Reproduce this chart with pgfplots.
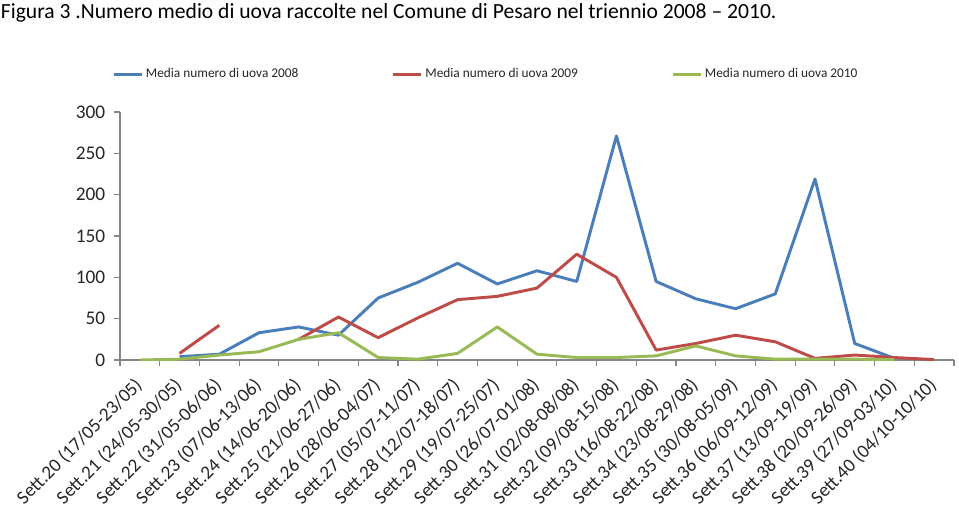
\documentclass[border=0pt]{standalone}
\usepackage{fontspec}
\setmainfont{Carlito}
\usepackage{pgfplots}
\pgfplotsset{compat=1.18}

\definecolor{c2008}{HTML}{4A7EBB}
\definecolor{c2009}{HTML}{BE4B48}
\definecolor{c2010}{HTML}{98B954}
\definecolor{axisgray}{HTML}{868686}

\begin{document}
\begin{tikzpicture}
\path (0pt,0pt) rectangle (719.25pt,388.5pt);
\node[anchor=base west, inner sep=0pt, font=\fontsize{16.2}{19}\selectfont]
  at (0.5pt,374.5pt) {Figura 3 .Numero medio di uova raccolte nel Comune di Pesaro nel triennio 2008 – 2010.};
\begin{axis}[
  at={(90pt,118.5pt)}, anchor=south west,
  scale only axis, width=625.5pt, height=186pt,
  xmin=-0.5, xmax=20.5, ymin=0, ymax=300,
  axis x line=bottom, axis y line=left,
  axis line style={-, axisgray, line width=1pt},
  tick align=outside,
  ytick={0,50,...,300},
  xtick={0,...,20},
  major x tick style={draw=none},
  minor xtick={-0.5,0.5,...,20.5},
  minor tick length=4.5pt, major tick length=4.5pt,
  every tick/.style={axisgray, line width=0.8pt},
  xticklabels={Sett.20 (17/05-23/05), Sett.21 (24/05-30/05), Sett.22 (31/05-06/06),
    Sett.23 (07/06-13/06), Sett.24 (14/06-20/06), Sett.25 (21/06-27/06),
    Sett.26 (28/06-04/07), Sett.27 (05/07-11/07), Sett.28 (12/07-18/07),
    Sett.29 (19/07-25/07), Sett.30 (26/07-01/08), Sett.31 (02/08-08/08),
    Sett.32 (09/08-15/08), Sett.33 (16/08-22/08), Sett.34 (23/08-29/08),
    Sett.35 (30/08-05/09), Sett.36 (06/09-12/09), Sett.37 (13/09-19/09),
    Sett.38 (20/09-26/09), Sett.39 (27/09-03/10), Sett.40 (04/10-10/10)},
  xticklabel style={xshift=-5pt, yshift=-6pt, rotate=45, anchor=north east, inner sep=1pt,
    font=\fontsize{14.3}{16}\selectfont, text=black!85},
  yticklabel style={xshift=-3pt, font=\fontsize{14.5}{16}\selectfont, text=black!85},
  /pgf/number format/assume math mode=true,
  unbounded coords=jump,
  legend columns=3,
  legend style={at={(-0.0096,1.153)}, anchor=west, draw=none, inner sep=0pt,
    font=\fontsize{10}{12}\selectfont, text=black!85,
    /tikz/every even column/.append style={column sep=68pt}},
  legend image code/.code={\draw[#1] (0pt,0pt) -- (21pt,0pt);},
  every axis plot/.append style={line width=2.2pt, line join=round},
]
\addplot[c2008] coordinates {
  (1,4) (2,7) (3,33) (4,40) (5,30) (6,75) (7,94) (8,117) (9,92) (10,108)
  (11,95) (12,271) (13,95) (14,74) (15,62) (16,80) (17,219) (18,20) (19,2)
};
\addlegendentry{Media numero di uova 2008}
\addplot[c2009] coordinates {
  (1,8) (2,42) (3,nan) (4,25) (5,52) (6,27) (7,51) (8,73) (9,77) (10,87)
  (11,128) (12,100) (13,12) (14,20) (15,30) (16,22) (17,2) (18,6) (19,3) (20,0.5)
};
\addlegendentry{Media numero di uova 2009}
\addplot[c2010] coordinates {
  (0,0) (1,1) (2,6) (3,10) (4,25) (5,33) (6,3) (7,1) (8,8) (9,40) (10,7)
  (11,3) (12,3) (13,5) (14,17) (15,5) (16,1) (17,1) (18,1) (19,0.5)
};
\addlegendentry{Media numero di uova 2010}
\end{axis}
\end{tikzpicture}
\end{document}
